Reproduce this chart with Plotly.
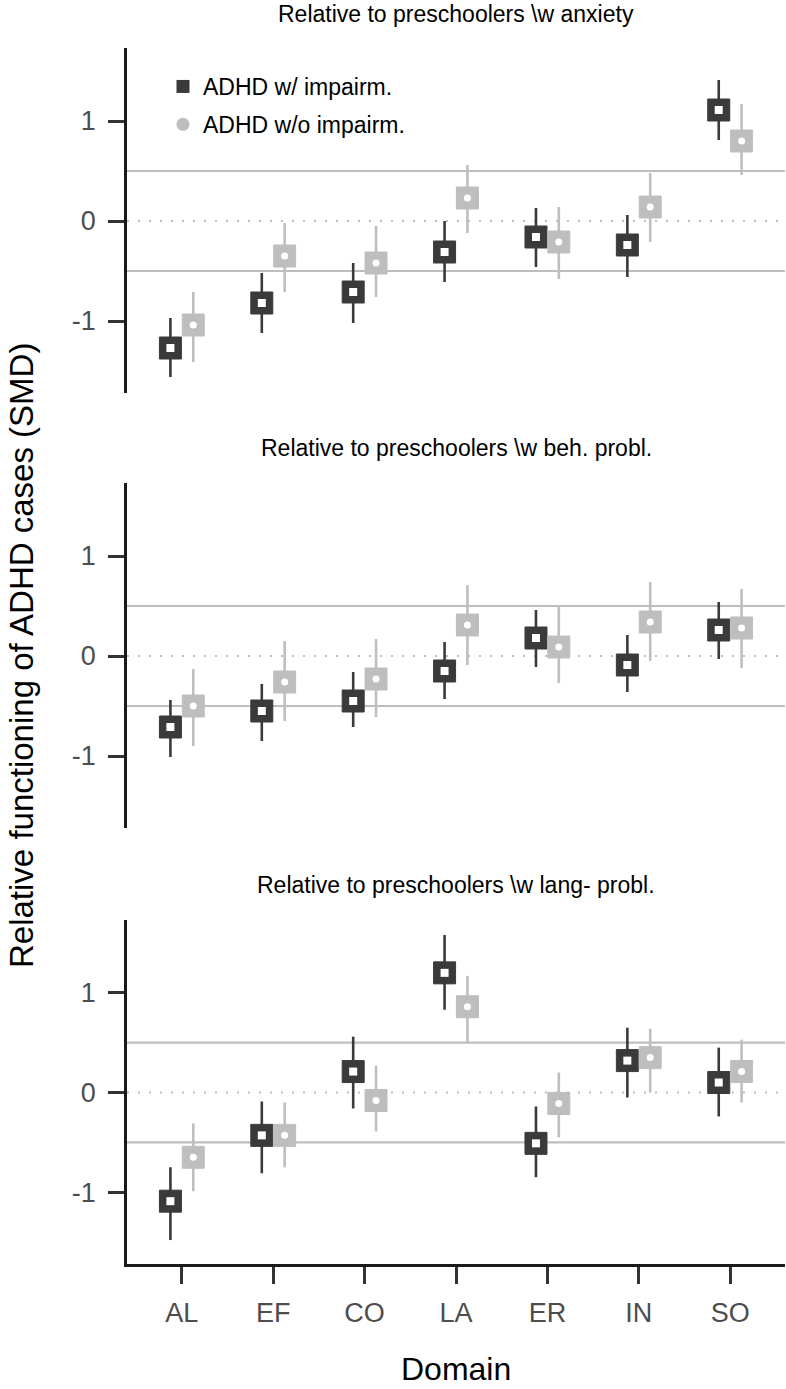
import plotly.graph_objects as go

# ---------------- data ----------------
domains = ["AL", "EF", "CO", "LA", "ER", "IN", "SO"]
panel_titles = [
    "Relative to preschoolers \\w anxiety",
    "Relative to preschoolers \\w beh. probl.",
    "Relative to preschoolers \\w lang- probl.",
]
series_names = ["ADHD w/ impairm.", "ADHD w/o impairm."]

# Panel 1: anxiety
p1_imp = [-1.27, -0.82, -0.71, -0.31, -0.16, -0.24, 1.11]
p1_imp_lo = [-1.56, -1.12, -1.02, -0.61, -0.46, -0.56, 0.81]
p1_imp_hi = [-0.97, -0.52, -0.42, 0.00, 0.13, 0.06, 1.41]
p1_no = [-1.04, -0.35, -0.42, 0.23, -0.21, 0.14, 0.80]
p1_no_lo = [-1.41, -0.71, -0.76, -0.12, -0.58, -0.21, 0.46]
p1_no_hi = [-0.71, -0.02, -0.05, 0.56, 0.14, 0.48, 1.17]

# Panel 2: behaviour problems
p2_imp = [-0.71, -0.55, -0.45, -0.15, 0.18, -0.09, 0.26]
p2_imp_lo = [-1.01, -0.85, -0.71, -0.43, -0.11, -0.36, -0.03]
p2_imp_hi = [-0.44, -0.28, -0.16, 0.14, 0.46, 0.21, 0.54]
p2_no = [-0.50, -0.26, -0.23, 0.31, 0.09, 0.34, 0.28]
p2_no_lo = [-0.90, -0.65, -0.61, -0.09, -0.27, -0.05, -0.12]
p2_no_hi = [-0.13, 0.15, 0.17, 0.71, 0.49, 0.74, 0.67]

# Panel 3: language problems
p3_imp = [-1.09, -0.43, 0.21, 1.20, -0.51, 0.32, 0.10]
p3_imp_lo = [-1.48, -0.81, -0.16, 0.83, -0.85, -0.05, -0.24]
p3_imp_hi = [-0.75, -0.09, 0.56, 1.58, -0.14, 0.65, 0.45]
p3_no = [-0.65, -0.43, -0.08, 0.86, -0.11, 0.35, 0.21]
p3_no_lo = [-0.99, -0.75, -0.39, 0.50, -0.45, 0.00, -0.10]
p3_no_hi = [-0.31, -0.10, 0.27, 1.17, 0.20, 0.64, 0.53]

panels = [
    (p1_imp, p1_imp_lo, p1_imp_hi, p1_no, p1_no_lo, p1_no_hi),
    (p2_imp, p2_imp_lo, p2_imp_hi, p2_no, p2_no_lo, p2_no_hi),
    (p3_imp, p3_imp_lo, p3_imp_hi, p3_no, p3_no_lo, p3_no_hi),
]

# ---------------- style ----------------
DARK = "#3a3a3a"
LIGHT = "#bebebe"
TICKC = "#4d4d4d"
FONT = "Liberation Sans, Arial, sans-serif"
DODGE = 0.125

W, H = 786, 1389
ML, MR, MT, MB = 127, 1, 48, 125
PW, PH = W - ML - MR, H - MT - MB


def py(pix):
    return (H - MB - pix) / PH


def px(pix):
    return (pix - ML) / PW


# panel pixel extents (top, bottom)
panel_px = [(48, 393), (483, 828), (920, 1264)]
title_px = [14, 448, 885]

fig = go.Figure()
xpos = list(range(1, len(domains) + 1))

for k, (imp, imp_lo, imp_hi, no, no_lo, no_hi) in enumerate(panels):
    xa = "x" if k == 0 else f"x{k+1}"
    ya = "y" if k == 0 else f"y{k+1}"
    for vals, lo, hi, col, off, inner_sym, inner_size, name in [
        (imp, imp_lo, imp_hi, DARK, -DODGE, "square", 8, series_names[0]),
        (no, no_lo, no_hi, LIGHT, DODGE, "circle", 7, series_names[1]),
    ]:
        xs = [x + off for x in xpos]
        fig.add_trace(go.Scatter(
            x=xs, y=vals, mode="markers", xaxis=xa, yaxis=ya,
            name=name, showlegend=False,
            marker=dict(symbol="square", size=22, color=col,
                        line=dict(width=1, color=col)),
            error_y=dict(type="data", symmetric=False,
                         array=[h - v for h, v in zip(hi, vals)],
                         arrayminus=[v - l for v, l in zip(vals, lo)],
                         color=col, thickness=2.6, width=0),
        ))
        fig.add_trace(go.Scatter(
            x=xs, y=vals, mode="markers", xaxis=xa, yaxis=ya,
            showlegend=False, hoverinfo="skip",
            marker=dict(symbol=inner_sym, size=inner_size, color="white"),
        ))

    # reference lines
    for yv, dash in [(0.5, "solid"), (-0.5, "solid"), (0, "2px,9px")]:
        fig.add_shape(type="line", xref=f"{xa} domain", yref=ya,
                      x0=0, x1=1, y0=yv, y1=yv, layer="below",
                      line=dict(color=LIGHT, width=2.2, dash=dash))

# legend-only traces
fig.add_trace(go.Scatter(x=[None], y=[None], mode="markers", name=series_names[0],
                         legendgroup="a",
                         marker=dict(symbol="square", size=13, color=DARK)))
fig.add_trace(go.Scatter(x=[None], y=[None], mode="markers", name=series_names[1],
                         legendgroup="b",
                         marker=dict(symbol="circle", size=13, color=LIGHT)))

# axes
for k, (top, bot) in enumerate(panel_px):
    xname = "xaxis" if k == 0 else f"xaxis{k+1}"
    yname = "yaxis" if k == 0 else f"yaxis{k+1}"
    ya = "y" if k == 0 else f"y{k+1}"
    xa = "x" if k == 0 else f"x{k+1}"
    last = (k == 2)
    fig.layout[xname] = dict(
        domain=[0, 1], anchor=ya, range=[0.4, 7.6],
        tickvals=xpos, ticktext=domains,
        showticklabels=last, ticks="outside" if last else "",
        ticklen=17, tickwidth=2.5, tickcolor="#333333",
        ticklabelstandoff=6,
        showline=last, linecolor="#1a1a1a", linewidth=2.5,
        showgrid=False, zeroline=False,
        tickfont=dict(family=FONT, size=27, color=TICKC),
    )
    fig.layout[yname] = dict(
        domain=[py(bot), py(top)], anchor=xa, range=[-1.72, 1.73],
        tickvals=[-1, 0, 1], ticktext=["-1", "0", "1"],
        ticks="outside", ticklen=16, tickwidth=2.5, tickcolor="#333333",
        ticklabelstandoff=7,
        showline=True, linecolor="#1a1a1a", linewidth=2.5,
        showgrid=False, zeroline=False,
        tickfont=dict(family=FONT, size=27, color=TICKC),
    )

annotations = []
for t, ty in zip(panel_titles, title_px):
    annotations.append(dict(text=t, x=0.5, y=py(ty), xref="paper", yref="paper",
                            showarrow=False, xanchor="center", yanchor="middle",
                            font=dict(family=FONT, size=23, color="black")))
annotations.append(dict(text="Domain", x=0.5, y=py(1369), xref="paper", yref="paper",
                        showarrow=False, xanchor="center", yanchor="middle",
                        font=dict(family=FONT, size=32, color="black")))
annotations.append(dict(text="Relative functioning of ADHD cases (SMD)",
                        x=px(21), y=py(656), xref="paper", yref="paper",
                        textangle=-90, showarrow=False,
                        xanchor="center", yanchor="middle",
                        font=dict(family=FONT, size=33, color="black")))

fig.update_layout(
    width=W, height=H,
    margin=dict(l=ML, r=MR, t=MT, b=MB),
    paper_bgcolor="white", plot_bgcolor="white",
    annotations=annotations,
    showlegend=True,
    legend=dict(x=px(163), y=py(65), xanchor="left", yanchor="top",
                bgcolor="rgba(0,0,0,0)", traceorder="grouped", tracegroupgap=5,
                font=dict(family=FONT, size=23, color="black"),
                itemsizing="trace"),
)

# remove the browser's default 8px body margin so the figure sits at (0, 0)
fig.write_html("out.html",
               config={"displayModeBar": False},
               post_script="document.body.style.margin='0';document.body.style.padding='0';")
